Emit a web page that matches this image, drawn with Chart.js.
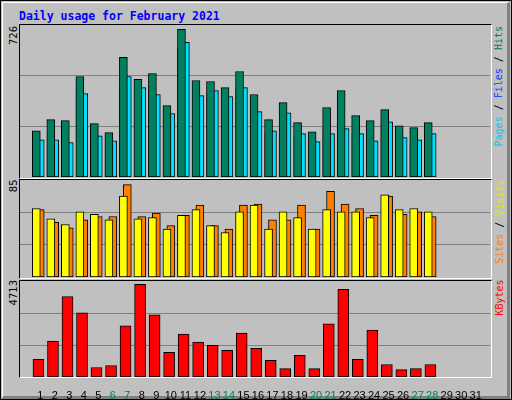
<!DOCTYPE html>
<html><head><meta charset="utf-8">
<script src="https://cdn.jsdelivr.net/npm/chart.js@4"></script>
<style>
body{margin:0;background:#fff}
#frame{position:absolute;left:0;top:0;width:510px;height:398px;background:#c0c0c0;border:1px solid #000}
#inner{position:absolute;left:1px;top:1px;width:504px;height:393px;border-top:1px solid #fff;border-left:1px solid #fff;border-right:3px solid #808080;border-bottom:3px solid #808080}
.panel{position:absolute;border-top:1px solid #000;border-left:1px solid #000;border-right:1px solid #fff;border-bottom:1px solid #fff;box-sizing:border-box}
canvas{position:absolute;display:block}
.rot{position:absolute;transform:rotate(-90deg);text-align:right;font:10px "DejaVu Sans Mono",monospace;white-space:nowrap;height:12px;line-height:12px}
#title{position:absolute;left:19px;top:9px;font:bold 11.5px "DejaVu Sans Mono",monospace;color:#0000ff}
</style></head><body>
<div id="frame"><div id="inner"></div></div>
<div id="title">Daily usage for February 2021</div>
<div class="panel" style="left:19px;top:24px;width:473px;height:155px"></div>
<div class="panel" style="left:19px;top:179px;width:473px;height:100px"></div>
<div class="panel" style="left:19px;top:280px;width:473px;height:98px"></div>
<canvas id="c1" width="470" height="152" style="left:20px;top:25px;width:470px;height:152px"></canvas>
<canvas id="c2" width="470" height="97" style="left:20px;top:180px;width:470px;height:97px"></canvas>
<canvas id="c3" width="470" height="118" style="left:20px;top:281px;width:470px;height:118px"></canvas>

<div class="rot" style="left:424px;top:95px;width:150px"></div>
<div class="rot" style="left:451px;top:222px;width:97px"></div>
<div class="rot" style="left:451px;top:322px;width:97px"></div>
<div class="rot" style="left:-61px;top:95px;width:150px;color:#000;font-family:'DejaVu Sans'">726</div>
<div class="rot" style="left:-35px;top:222px;width:97px;color:#000;font-family:'DejaVu Sans'">85</div>
<div class="rot" style="left:-34px;top:322px;width:96px;color:#000;font-family:'DejaVu Sans'">4713</div>

<script>
const days=['1','2','3','4','5','6','7','8','9','10','11','12','13','14','15','16','17','18','19','20','21','22','23','24','25','26','27','28','29','30','31'];
const weekend=[6,7,13,14,20,21,27,28];
const hits=[221,274,269,480,255,212,571,466,494,341,705,461,456,427,504,394,274,355,260,216,332,413,293,269,322,245,236,260];
const files=[164,207,202,418,178,159,427,408,432,284,614,375,403,370,427,312,216,284,193,164,236,264,207,188,255,135,154,178];
const pages=[178,178,164,399,197,173,480,427,394,303,643,389,413,384,427,312,221,307,207,169,207,231,207,173,264,188,178,207];
const visits=[60,51,46,57,55,50,71,51,52,42,54,59,45,39,57,63,42,57,52,42,59,57,57,52,72,59,60,57];
const sites=[59,48,43,50,53,53,81,53,56,45,54,63,45,42,63,64,50,50,63,42,75,64,60,54,71,55,57,53];
const kbytes=[863,1759,3950,3153,465,564,2506,4547,3053,1211,2108,1709,1560,1311,2157,1411,813,415,1062,415,2605,4298,863,2307,614,365,415,614];
const yMax=[726,85,4713];

const r=document.querySelectorAll('.rot');
r[0].innerHTML='<span style="color:#00c8f0">Pages</span> / <span style="color:#0040ff">Files</span> / <span style="color:#008060">Hits</span>';
r[1].innerHTML='<span style="color:#ff8000">Sites</span> / <span style="color:#e8e800">Visits</span>';
r[2].innerHTML='<span style="color:#ff0000">KBytes</span>';

function ds(vals,off,w,color){
  return {data:vals.map((v,i)=>({x:i+1+off,y:v})),backgroundColor:color,borderColor:'#000',borderWidth:1,
    borderSkipped:false,barThickness:w,grouped:false};
}
function make(id,datasets,max,showX){
  new Chart(document.getElementById(id),{type:'bar',data:{datasets},
    options:{responsive:false,maintainAspectRatio:false,animation:false,events:[],layout:{padding:0},
      plugins:{legend:{display:false},tooltip:{enabled:false}},
      scales:{
        x:{type:'linear',min:0.4,max:31.733,display:showX,grid:{display:false},border:{display:false},
          afterBuildTicks:a=>{a.ticks=days.map((d,i)=>({value:i+1.27}));},
          afterFit:a=>{if(showX)a.height=22;},
          ticks:{autoSkip:false,maxRotation:0,padding:4,font:{family:'Liberation Sans',size:11},
            callback:(v,i)=>days[i],
            color:c=>weekend.includes(c.index+1)?'#008060':'#000'}},
        y:{min:0,max:max,display:true,
          afterBuildTicks:a=>{a.ticks=[{value:max/3},{value:2*max/3}];},
          afterFit:a=>{a.width=0;},
          ticks:{display:false},border:{display:false},
          grid:{color:'#808080',lineWidth:1,drawTicks:false}}
      }}});
}
make('c1',[ds(hits,0,8,'#008060'),ds(files,-0.05,6,'#0040ff'),ds(pages,0.27,8,'#00e0ff')],yMax[0],false);
make('c2',[ds(visits,0,8,'#ffff00'),ds(sites,0.27,8,'#ff8000')],yMax[1],false);
make('c3',[ds(kbytes,0.15,11,'#ff0000')],yMax[2],true);
</script>
</body></html>
